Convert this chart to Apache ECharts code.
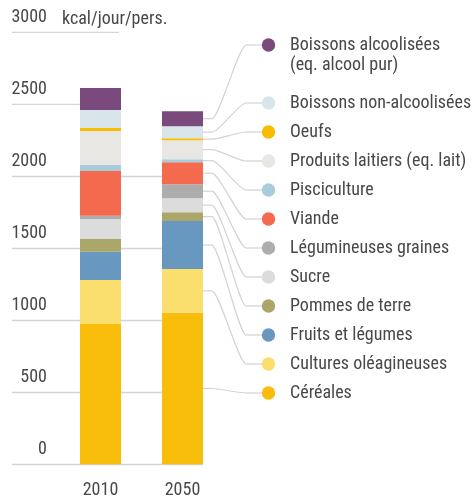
<!DOCTYPE html>
<html>
<head>
<meta charset="utf-8">
<script src="https://cdn.jsdelivr.net/npm/echarts@6/dist/echarts.min.js"></script>
<style>
  html, body { margin: 0; padding: 0; background: #fff; }
  #chart { width: 472px; height: 501px; }
</style>
</head>
<body>
<div id="chart"></div>
<script>
// values, kcal per day per person
const years = ['2010', '2050'];
const yMax = 3000;
const yStep = 500;

// stack order, bottom first
const groups = [
  'Céréales',
  'Cultures oléagineuses',
  'Fruits et légumes',
  'Pommes de terre',
  'Sucre',
  'Légumineuses graines',
  'Viande',
  'Pisciculture',
  'Produits laitiers (eq. lait)',
  'Oeufs',
  'Boissons non-alcoolisées',
  'Boissons alcoolisées\n(eq. alcool pur)'
];
const cereales = [975, 1053];
const oleagineuses = [305, 303];
const fruitsLegumes = [196, 333];
const pommesDeTerre = [88, 62];
const sucre = [139, 97];
const legumineuses = [23, 97];
const viande = [310, 153];
const pisciculture = [42, 21];
const laitiers = [236, 132];
const oeufs = [21, 14];
const boissonsNonAlc = [125, 83];
const boissonsAlc = [153, 104];

const groupValues = [cereales, oleagineuses, fruitsLegumes, pommesDeTerre, sucre, legumineuses,
  viande, pisciculture, laitiers, oeufs, boissonsNonAlc, boissonsAlc];
const groupColors = ['#F8BC0A', '#FBDF6E', '#6898BF', '#ABA66A', '#DCDCDC', '#ADADAD',
  '#F46A4F', '#A8CCDA', '#E9E7E4', '#F9BC00', '#D8E6EC', '#7A4A7C'];

const FONT = '"Roboto Condensed", "DejaVu Sans Condensed", sans-serif';
const FS = 18;
const INK = '#484848';
const RULE = '#d4d4d4';

const chart = echarts.init(document.getElementById('chart'));

chart.setOption({
  animation: false,
  textStyle: { fontFamily: FONT },
  title: {
    text: 'kcal/jour/pers.', left: 57, top: 5,
    textStyle: { fontFamily: FONT, fontSize: FS, fontWeight: 'normal', color: INK }
  },
  grid: [
    { left: 12, top: 32.3, width: 191, height: 432 },   // rules + y labels
    { left: 59.5, top: 32.3, width: 164, height: 432 }  // bars
  ],
  xAxis: [
    { gridIndex: 0, type: 'category', data: years, show: false },
    {
      gridIndex: 1, type: 'category', data: years,
      axisLine: { show: false }, axisTick: { show: false },
      axisLabel: { color: INK, fontSize: FS, margin: 17, fontFamily: FONT }
    }
  ],
  yAxis: [
    {
      gridIndex: 0, type: 'value', min: 0, max: yMax, interval: yStep,
      axisLine: { show: false }, axisTick: { show: false },
      splitLine: {
        lineStyle: { color: [RULE, RULE, RULE, RULE, RULE, 'rgba(0,0,0,0)', 'rgba(0,0,0,0)'], width: 1.3 }
      },
      axisLabel: {
        inside: true, align: 'right', margin: 35, verticalAlign: 'bottom',
        padding: [0, 0, 6, 0], color: INK, fontSize: FS, fontFamily: FONT,
        formatter: v => String(v)
      }
    },
    { gridIndex: 1, type: 'value', min: 0, max: yMax, interval: yStep, show: false }
  ],
  series: groups.map((name, i) => ({
    name, type: 'bar', stack: 'total', xAxisIndex: 1, yAxisIndex: 1,
    barWidth: 41, data: groupValues[i],
    itemStyle: { color: groupColors[i] }
  }))
});

// short rules at 2500 and 3000, leader lines and the legend column
const gfx = [];
const yPx = v => chart.convertToPixel({ yAxisIndex: 0 }, v);
gfx.push({ type: 'line', shape: { x1: 12, y1: yPx(2500), x2: 80, y2: yPx(2500) }, style: { stroke: RULE, lineWidth: 1.3 } });
gfx.push({ type: 'line', shape: { x1: 12, y1: yPx(3000), x2: 119, y2: yPx(3000) }, style: { stroke: RULE, lineWidth: 1.3 } });

const barRight = chart.convertToPixel({ xAxisIndex: 1 }, years[1]) + 20.5;
const dotX = 268.5;
const textX = 290;
const leader = { fill: null, stroke: '#d3d3d3', lineWidth: 1.2 };
let base = 0;
groups.forEach((name, i) => {
  const v = groupValues[i][1];
  const y0 = chart.convertToPixel({ yAxisIndex: 1 }, base + v / 2);
  base += v;
  // legend rows run top-down, reverse of the stack
  const row = groups.length - 1 - i;
  const y1 = row === 0 ? 45 : 103 + (row - 1) * 29;
  const a = barRight + 9, b = 246, k = 7;
  gfx.push({ type: 'line', z: 1, shape: { x1: barRight, y1: y0, x2: a, y2: y0 }, style: leader });
  gfx.push({
    type: 'bezierCurve', z: 1,
    shape: { x1: a, y1: y0, cpx1: a + k, cpy1: y0, cpx2: b - k, cpy2: y1, x2: b, y2: y1 },
    style: leader
  });
  gfx.push({ type: 'line', z: 1, shape: { x1: b, y1: y1, x2: dotX, y2: y1 }, style: leader });
  gfx.push({ type: 'circle', z: 2, shape: { cx: dotX, cy: y1, r: 6.7 }, style: { fill: groupColors[i] } });
  gfx.push({
    type: 'text', z: 2, x: textX, y: y1 - 10,
    style: { text: name, fill: INK, font: `${FS}px ${FONT}`, lineHeight: 20, verticalAlign: 'top' }
  });
});
chart.setOption({ graphic: gfx });
</script>
</body>
</html>
